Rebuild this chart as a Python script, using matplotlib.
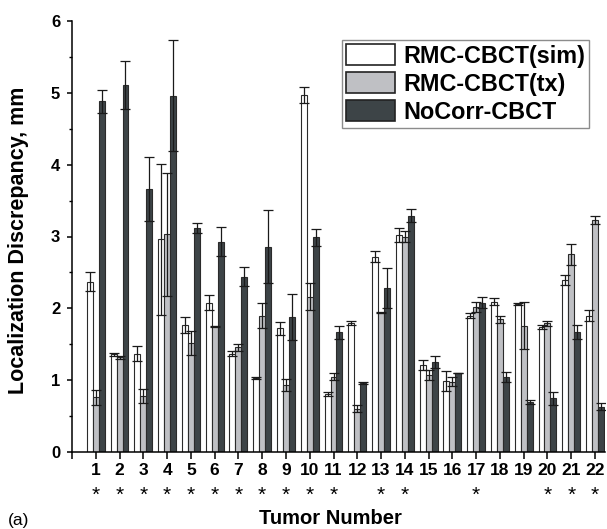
import matplotlib
matplotlib.use('Agg')
import matplotlib.pyplot as plt
import numpy as np
from matplotlib.transforms import blended_transform_factory

tumors = list(range(1, 23))
sim = [2.37, 1.36, 1.37, 2.96, 1.77, 2.08, 1.37, 1.03, 1.72, 4.97, 0.81,
       1.80, 2.72, 3.02, 1.21, 0.99, 1.90, 2.09, 2.06, 1.74, 2.40, 1.90]
sim_err = [0.13, 0.02, 0.10, 1.05, 0.11, 0.10, 0.03, 0.01, 0.09, 0.11, 0.03,
           0.03, 0.08, 0.10, 0.07, 0.14, 0.03, 0.05, 0.01, 0.03, 0.07, 0.07]
tx = [0.76, 1.32, 0.78, 3.03, 1.52, 1.75, 1.46, 1.90, 0.93, 2.16, 1.05,
      0.60, 1.94, 3.00, 1.07, 0.98, 2.02, 1.85, 1.76, 1.79, 2.75, 3.23]
tx_err = [0.11, 0.02, 0.10, 0.86, 0.17, 0.01, 0.05, 0.17, 0.08, 0.19, 0.05,
          0.05, 0.01, 0.08, 0.07, 0.06, 0.07, 0.05, 0.33, 0.04, 0.15, 0.06]
nocorr = [4.88, 5.11, 3.66, 4.96, 3.12, 2.93, 2.44, 2.86, 1.88, 2.99, 1.67,
          0.96, 2.28, 3.29, 1.25, 1.10, 2.08, 1.05, 0.70, 0.75, 1.67, 0.63]
nocorr_err = [0.16, 0.34, 0.44, 0.77, 0.07, 0.20, 0.13, 0.51, 0.32, 0.12, 0.09,
              0.01, 0.28, 0.09, 0.08, 0.00, 0.08, 0.07, 0.03, 0.09, 0.10, 0.05]
starred = [1, 2, 3, 4, 5, 6, 7, 8, 9, 10, 11, 13, 14, 17, 20, 21, 22]
labels = ['RMC-CBCT(sim)', 'RMC-CBCT(tx)', 'NoCorr-CBCT']
yticks = [0, 1, 2, 3, 4, 5, 6]

fam = 'Liberation Sans'
plt.rcParams['font.family'] = [fam, 'DejaVu Sans']

W, H = 607, 529
fig = plt.figure(figsize=(W / 100, H / 100), dpi=100)
ax = fig.add_axes([72 / W, 1 - 452 / H, (605 - 72) / W, (452 - 21) / H])

x = np.array(tumors, dtype=float)
w = 0.25
ekw = dict(ecolor='#1a1a1a', elinewidth=0.9, capsize=3.6, capthick=0.9)
ax.bar(x - w, sim, w, yerr=sim_err, color='#ffffff', edgecolor='#2b2b2b',
       linewidth=0.8, error_kw=ekw, label=labels[0])
ax.bar(x, tx, w, yerr=tx_err, color='#bfc0c4', edgecolor='#2b2b2b',
       linewidth=0.8, error_kw=ekw, label=labels[1])
ax.bar(x + w, nocorr, w, yerr=nocorr_err, color='#3d4447', edgecolor='#2b2b2b',
       linewidth=0.8, error_kw=ekw, label=labels[2])

ax.set_xlim(0, 22.42)
ax.set_ylim(0, 6)
ax.spines['top'].set_visible(False)
ax.spines['right'].set_visible(False)
for s in ['left', 'bottom']:
    ax.spines[s].set_linewidth(1.1)

ax.set_xticks([0] + tumors)
ax.set_xticklabels([''] + [str(t) for t in tumors], fontsize=12.5, fontweight='bold')
ax.set_yticks(yticks)
ax.set_yticklabels([str(v) for v in yticks], fontsize=12, fontweight='bold')
ax.set_yticks(np.arange(0.5, 6, 1.0), minor=True)
ax.tick_params(axis='x', direction='out', length=5, width=1.1, pad=3)
ax.tick_params(axis='y', which='major', direction='out', length=3.5, width=1.1, pad=5)
ax.tick_params(axis='y', which='minor', direction='out', length=2.5, width=1.0)

tr = blended_transform_factory(ax.transData, ax.transAxes)
for t in starred:
    ax.text(t, -0.101, '*', transform=tr, ha='center', va='center', fontsize=15)

ax.set_ylabel('Localization Discrepancy, mm', fontsize=15.5, fontweight='bold')
ax.yaxis.set_label_coords(-0.08, 0.49)
fig.text(330 / W, 1 - 518 / H, 'Tumor Number', ha='center', va='center',
         fontsize=14.5, fontweight='bold')
fig.text(8 / W, 1 - 520 / H, '(a)', ha='left', va='center', fontsize=12.5)

leg = ax.legend(loc='upper left', bbox_to_anchor=(342 / W, 1 - 40 / H),
                bbox_transform=fig.transFigure, fancybox=False, frameon=True,
                prop=dict(family=fam, weight='bold', size=16.8),
                handlelength=2.1, handleheight=1.0, labelspacing=0.2,
                handletextpad=0.35, borderpad=0.18, borderaxespad=0)
leg.get_frame().set_edgecolor('#707070')
leg.get_frame().set_linewidth(1.0)
for h in leg.legend_handles:
    h.set_edgecolor('#222222')
    h.set_linewidth(1.2)

fig.savefig('out.png', dpi=100)
